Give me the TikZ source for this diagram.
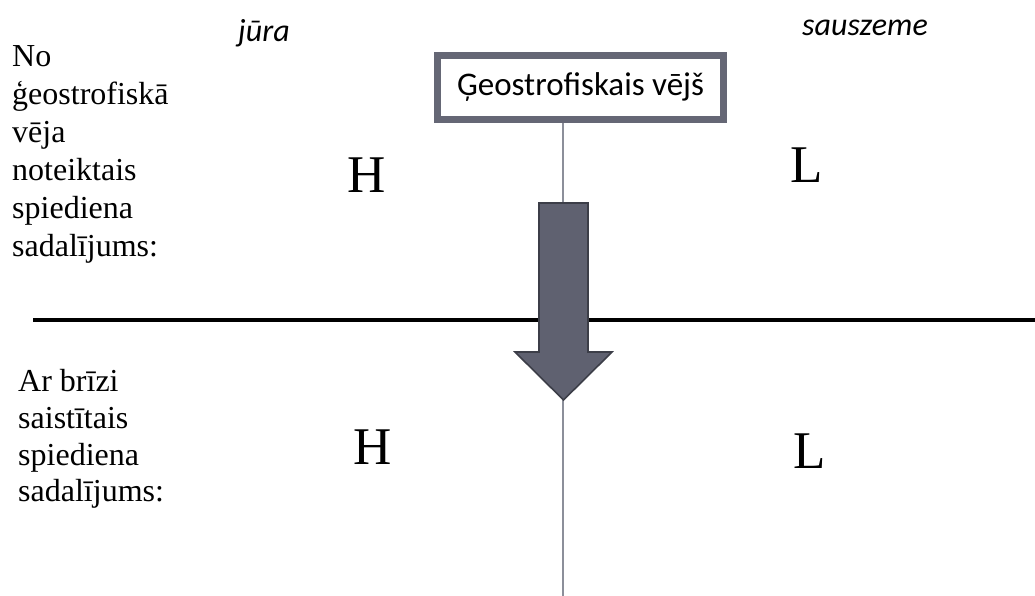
\documentclass[tikz,border=0pt]{standalone}
\usepackage{fontspec}
\setmainfont{Liberation Serif}
\newfontfamily\calibrifont{Carlito}
\definecolor{boxgray}{HTML}{656775}
\definecolor{arrowfill}{HTML}{5F6170}
\definecolor{arrowedge}{HTML}{3C3E48}
\definecolor{axisgray}{HTML}{8C8F9A}
\tikzset{
  sidetext/.style={anchor=north west, inner sep=0pt, align=left,
    font=\fontsize{32}{36.8}\selectfont},
  pressure/.style={inner sep=0pt, font=\fontsize{53}{60}\selectfont},
  region/.style={inner sep=0pt, anchor=base west, font=\calibrifont\itshape\fontsize{32}{38}\selectfont},
  windbox/.style={draw=boxgray, line width=7pt, fill=white, minimum width=286pt,
    minimum height=64pt, inner sep=0pt, font=\calibrifont\fontsize{33}{38}\selectfont},
  blockarrow/.style={fill=arrowfill, draw=arrowedge, line width=1.6pt, line join=miter},
}
\begin{document}
\begin{tikzpicture}[x=1pt,y=-1pt]
\useasboundingbox (0,0) rectangle (1035,596);

% pressure levels divider
\coordinate (divL) at (33,319.5);
\coordinate (divR) at (1035,319.5);
\draw[line width=4pt] (divL) -- (divR);

% wind label box
\node[windbox] (box) at (580.5,87.5) {Ģeostrofiskais vējš};

% vertical axis under the box
\coordinate (axisTop) at (563,123);
\coordinate (axisBot) at (563,596);
\draw[axisgray, line width=1.5pt] (axisTop) -- (axisBot);

% block arrow pointing down
\coordinate (tip) at (563.5,400);
\draw[blockarrow] (539,203) -- (588,203) -- (588,352) -- (612,352) -- (tip)
  -- (515,352) -- (539,352) -- cycle;

% region names
\node[region] (sea) at (238,42) {jūra};
\node[region] (land) at (802,36) {sauszeme};

% side captions
\node[sidetext, font=\fontsize{32}{38}\selectfont] (topcap) at (12,45) {No\\ģeostrofiskā\\vēja\\noteiktais\\spiediena\\sadalījums:};
\node[sidetext] (botcap) at (18,369) {Ar brīzi\\saistītais\\spiediena\\sadalījums:};

% pressure centres
\node[pressure] (H1) at (367,175) {H};
\node[pressure] (L1) at (807,165) {L};
\node[pressure] (H2) at (373,447) {H};
\node[pressure] (L2) at (810,451) {L};
\end{tikzpicture}
\end{document}
